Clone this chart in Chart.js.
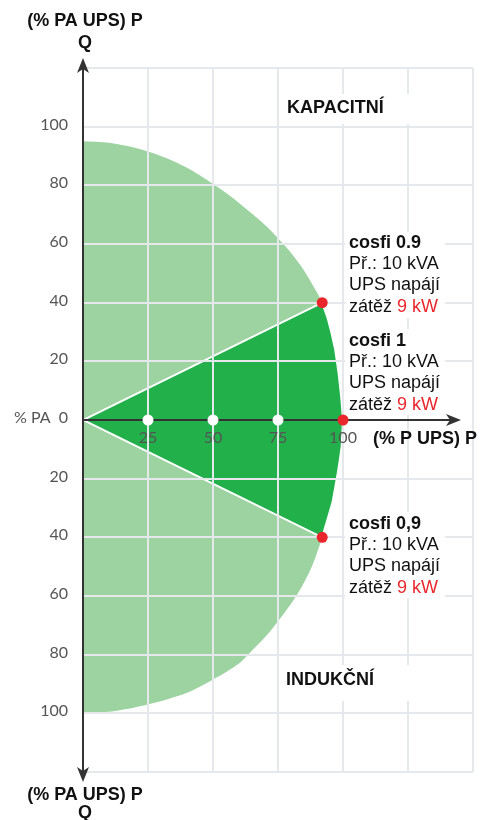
<!DOCTYPE html>
<html>
<head>
<meta charset="utf-8">
<script src="https://cdn.jsdelivr.net/npm/chart.js@4.4.1/dist/chart.umd.min.js"></script>
<style>
  html, body { margin: 0; padding: 0; background: #fff; }
  #wrap { width: 481px; height: 820px; }
</style>
</head>
<body>
<div id="wrap"><canvas id="pq"></canvas></div>
<script>
'use strict';

// Axis ranges (% P UPS horizontally, % PA UPS vertically)
const pMax = 150, pStep = 25;
const qMax = 120, qStep = 20;

// Light area outline, capacitive side (Q > 0)
const capP = [0, 10, 20, 30, 40, 50, 60, 70, 75, 80, 85, 90, 92, 95, 97, 99, 100];
const capQ = [95, 94.5, 92.8, 90, 86, 80.5, 74, 66.5, 62, 57, 51, 43.5, 40, 32, 24, 13, 0];
// inductive side (Q < 0), going back to the Q axis
const indP = [99.5, 98, 96, 92, 88, 82, 72, 64, 60, 50, 40, 25, 10, 0];
const indQ = [-9, -18, -28, -40, -50, -60, -72, -79.5, -83, -88.5, -93, -97, -99.5, -100];

// Dark wedge: origin -> cosfi 0.9 (cap) -> arc -> cosfi 0.9 (ind) -> origin
const wedgeP = [0, 92, 94, 95.5, 97, 98.3, 99.3, 100, 99.5, 98.7, 98, 96, 94, 92, 0];
const wedgeQ = [0, 40, 35, 30, 24, 16, 8, 0, -9, -14, -18, -28, -34, -40, 0];

// Load points (red) and axis marks (white)
const loadP = [92, 100, 92];
const loadQ = [40, 0, -40];
const markP = [25, 50, 75];

// Notes next to the load points
const noteTitles = ['cosfi 0.9', 'cosfi 1', 'cosfi 0,9'];
const noteLines = ['Př.: 10 kVA', 'UPS napájí'];
const notePower = '9 kW';

const xy = (ps, qs) => ps.map((p, i) => ({ x: p, y: qs[i] }));

const LIGHT = '#9dd3a0';
const DARK = '#22b04b';
const RED = '#e8262c';
const GRID = '#e6e9ec';
const AXIS = '#333';
const BOLD = 'bold 18px "Liberation Sans", Arial, sans-serif';
const REG = '18px "Liberation Sans", Arial, sans-serif';

function arrow(ctx, x, y, dir) {
  // dir: 'up' | 'down' | 'right'
  ctx.save();
  ctx.translate(x, y);
  ctx.rotate({ up: 0, right: Math.PI / 2, down: Math.PI }[dir]);
  ctx.beginPath();
  ctx.moveTo(0, 0);
  ctx.lineTo(6, 15);
  ctx.lineTo(0, 11);
  ctx.lineTo(-6, 15);
  ctx.closePath();
  ctx.fillStyle = AXIS;
  ctx.fill();
  ctx.restore();
}

const gridAndAxes = {
  id: 'gridAndAxes',
  beforeDatasetDraw(chart, args) {
    if (chart.data.datasets[args.index].label !== 'marks') return;
    const { ctx, chartArea: a, scales: { x, y } } = chart;
    const x0 = Math.round(x.getPixelForValue(0));
    const y0 = Math.round(y.getPixelForValue(0));
    ctx.save();
    ctx.strokeStyle = GRID;
    ctx.lineWidth = 2;
    ctx.beginPath();
    x.ticks.forEach(t => {
      if (t.value === 0) return;
      const px = Math.round(x.getPixelForValue(t.value));
      ctx.moveTo(px, a.top); ctx.lineTo(px, a.bottom);
    });
    y.ticks.forEach(t => {
      if (t.value === 0) return;
      const py = Math.round(y.getPixelForValue(t.value));
      ctx.moveTo(a.left, py); ctx.lineTo(a.right, py);
    });
    ctx.stroke();

    ctx.strokeStyle = AXIS;
    ctx.lineWidth = 2;
    ctx.beginPath();
    ctx.moveTo(x0, a.top); ctx.lineTo(x0, a.bottom);
    ctx.moveTo(x0, y0); ctx.lineTo(a.right - 20, y0);
    ctx.stroke();
    arrow(ctx, x0, a.top - 10, 'up');
    arrow(ctx, x0, a.bottom + 10, 'down');
    arrow(ctx, a.right - 12, y0, 'right');
    ctx.restore();
  }
};

function boxText(ctx, text, x, y, align) {
  ctx.textAlign = align || 'left';
  ctx.fillText(text, x, y);
}

const labels = {
  id: 'labels',
  afterDraw(chart) {
    const { ctx } = chart;
    ctx.save();
    ctx.textBaseline = 'middle';

    // white patches behind free labels
    ctx.fillStyle = '#fff';
    ctx.fillRect(281, 94, 134, 30);
    ctx.fillRect(281, 665, 134, 36);
    [232, 329, 512].forEach(top => ctx.fillRect(345, top, 100, 86));

    ctx.fillStyle = '#111';
    ctx.font = BOLD;
    boxText(ctx, '(% PA UPS) P', 85, 21, 'center');
    boxText(ctx, 'Q', 85, 43, 'center');
    boxText(ctx, '(% PA UPS) P', 85, 795, 'center');
    boxText(ctx, 'Q', 85, 813, 'center');
    boxText(ctx, '(% P UPS) P', 373, 439);
    boxText(ctx, 'KAPACITNÍ', 287, 108);
    boxText(ctx, 'INDUKČNÍ', 286, 680);

    const tops = [243, 341, 524];
    noteTitles.forEach((title, i) => {
      const t = tops[i];
      ctx.fillStyle = '#111';
      ctx.font = BOLD;
      boxText(ctx, title, 349, t);
      ctx.font = REG;
      boxText(ctx, noteLines[0], 349, t + 21);
      boxText(ctx, noteLines[1], 349, t + 42);
      const lead = 'zátěž ';
      boxText(ctx, lead, 349, t + 64);
      ctx.fillStyle = RED;
      boxText(ctx, notePower, 349 + ctx.measureText(lead).width, t + 64);
    });
    ctx.restore();
  }
};

new Chart(document.getElementById('pq'), {
  type: 'scatter',
  data: {
    datasets: [
      {
        label: 'load',
        data: xy(loadP, loadQ),
        order: 0,
        pointRadius: 5.5,
        pointBackgroundColor: RED,
        pointBorderWidth: 0
      },
      {
        label: 'marks',
        data: markP.map(p => ({ x: p, y: 0 })),
        order: 1,
        pointRadius: 5.5,
        pointBackgroundColor: '#fff',
        pointBorderWidth: 0
      },
      {
        label: 'wedge',
        data: xy(wedgeP, wedgeQ),
        order: 2,
        showLine: true,
        fill: 'shape',
        backgroundColor: DARK,
        borderColor: '#fff',
        borderWidth: 2,
        pointRadius: 0
      },
      {
        label: 'area',
        data: xy(capP.concat(indP), capQ.concat(indQ)),
        order: 3,
        showLine: true,
        tension: 0.3,
        fill: 'shape',
        backgroundColor: LIGHT,
        borderColor: 'transparent',
        borderWidth: 0,
        pointRadius: 0
      }
    ]
  },
  options: {
    responsive: true,
    maintainAspectRatio: false,
    animation: false,
    layout: { padding: { left: 10, top: 68, right: 6, bottom: 48 } },
    plugins: { legend: { display: false }, tooltip: { enabled: false } },
    scales: {
      x: {
        type: 'linear',
        position: { y: 0 },
        min: 0, max: pMax,
        grid: { display: false, drawTicks: false },
        border: { display: false },
        ticks: {
          z: 1,
          stepSize: pStep,
          padding: 8,
          color: '#555',
          font: { family: 'Lato', size: 16 },
          callback: v => (v > 0 && v <= 100 ? String(v) : '')
        }
      },
      y: {
        type: 'linear',
        min: -qMax, max: qMax,
        grid: { display: false, drawTicks: false },
        border: { display: false },
        afterFit: s => { s.width = 73; },
        ticks: {
          stepSize: qStep,
          padding: 15,
          labelOffset: -2,
          color: '#555',
          font: { family: 'Lato', size: 16 },
          callback: v => (v === 0 ? '% PA  0' : Math.abs(v) > 100 ? '' : String(Math.abs(v)))
        }
      }
    }
  },
  plugins: [gridAndAxes, labels]
});
</script>
</body>
</html>
